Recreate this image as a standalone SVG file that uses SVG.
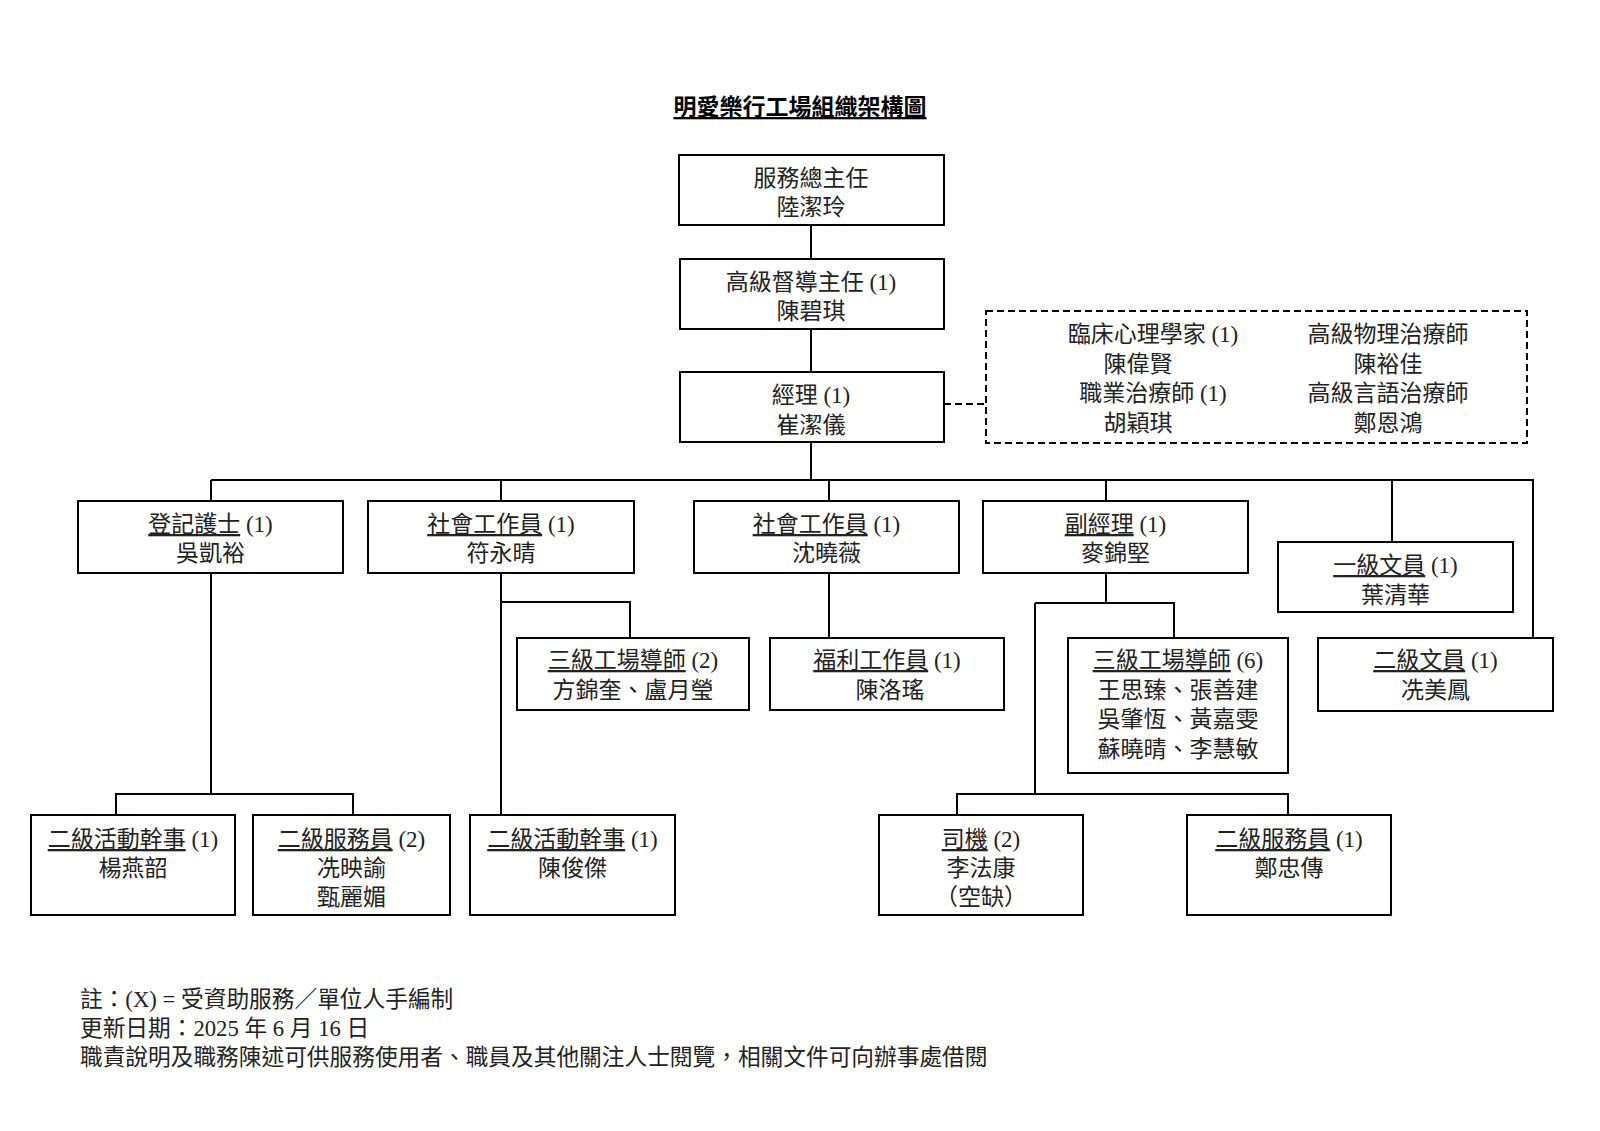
<svg xmlns="http://www.w3.org/2000/svg" width="1600" height="1131" viewBox="0 0 1600 1131">
<style>
.bg{fill:#fff}
.box{fill:#fff;stroke:#000;stroke-width:2}
.dash{fill:none;stroke:#000;stroke-width:2;stroke-dasharray:7 4}
.ln{fill:none;stroke:#000;stroke-width:2}
text{font-family:"Liberation Serif","Noto Sans CJK TC",serif;font-size:23px;fill:#222;text-anchor:middle}
.u{text-decoration:underline}
.title{font-size:23px;font-weight:bold;fill:#000;text-decoration:underline}
.foot{text-anchor:start;font-size:22.7px}
</style>
<rect class="bg" x="0" y="0" width="1600" height="1131"/>
<text class="title" x="800" y="115">明愛樂行工場組織架構圖</text>

<g id="connectors">
<path class="ln" d="M811 225V259M811 329V372M811 442V480"/>
<path class="dash" d="M944 404H986"/>
<path class="ln" d="M211 480H1533V638M211 480V501M501 480V501M829 480V501M1106 480V501M1392 480V542"/>
<path class="ln" d="M211 573V794M116 815V794H353V815"/>
<path class="ln" d="M501 573V815M501 602H630V638"/>
<path class="ln" d="M829 573V638"/>
<path class="ln" d="M1106 573V603M1035 603H1174V638M1035 603V794M957 815V794H1288V815"/>
</g>

<g id="n-director"><rect class="box" x="679" y="155" width="265" height="70"/>
<text x="811" y="186">服務總主任</text><text x="811" y="215">陸潔玲</text></g>

<g id="n-senior-supervisor"><rect class="box" x="680" y="259" width="264" height="70"/>
<text x="811" y="290">高級督導主任 (1)</text><text x="811" y="319">陳碧琪</text></g>

<g id="n-manager"><rect class="box" x="680" y="372" width="264" height="70"/>
<text x="811" y="403">經理 (1)</text><text x="811" y="433">崔潔儀</text></g>

<g id="n-professionals"><rect class="dash" x="986" y="311" width="541" height="132"/>
<text x="1153" y="342">臨床心理學家 (1)</text><text x="1138" y="371.5">陳偉賢</text>
<text x="1153" y="401">職業治療師 (1)</text><text x="1138" y="430.5">胡穎琪</text>
<text x="1388" y="342">高級物理治療師</text><text x="1388" y="371.5">陳裕佳</text>
<text x="1388" y="401">高級言語治療師</text><text x="1388" y="430.5">鄭恩鴻</text></g>

<g id="n-nurse"><rect class="box" x="78" y="501" width="265" height="72"/>
<text x="210.5" y="532"><tspan class="u">登記護士</tspan> (1)</text><text x="210.5" y="561">吳凱裕</text></g>

<g id="n-sw1"><rect class="box" x="368" y="501" width="266" height="72"/>
<text x="501" y="532"><tspan class="u">社會工作員</tspan> (1)</text><text x="501" y="561">符永晴</text></g>

<g id="n-sw2"><rect class="box" x="694" y="501" width="265" height="72"/>
<text x="826.5" y="532"><tspan class="u">社會工作員</tspan> (1)</text><text x="826.5" y="561">沈曉薇</text></g>

<g id="n-deputy"><rect class="box" x="983" y="501" width="265" height="72"/>
<text x="1115.5" y="532"><tspan class="u">副經理</tspan> (1)</text><text x="1115.5" y="561">麥錦堅</text></g>

<g id="n-clerk1"><rect class="box" x="1278" y="542" width="235" height="70"/>
<text x="1395.5" y="573"><tspan class="u">一級文員</tspan> (1)</text><text x="1395.5" y="603">葉清華</text></g>

<g id="n-instructor2"><rect class="box" x="517" y="638" width="232" height="72"/>
<text x="633" y="668"><tspan class="u">三級工場導師</tspan> (2)</text><text x="633" y="698">方錦奎、盧月瑩</text></g>

<g id="n-welfare"><rect class="box" x="770" y="638" width="234" height="72"/>
<text x="887" y="668"><tspan class="u">福利工作員</tspan> (1)</text><text x="890" y="698">陳洛瑤</text></g>

<g id="n-instructor6"><rect class="box" x="1068" y="638" width="220" height="135"/>
<text x="1178" y="668"><tspan class="u">三級工場導師</tspan> (6)</text>
<text x="1178" y="698">王思臻、張善建</text><text x="1178" y="727">吳肇恆、黃嘉雯</text><text x="1178" y="757">蘇曉晴、李慧敏</text></g>

<g id="n-clerk2"><rect class="box" x="1318" y="638" width="235" height="73"/>
<text x="1435.5" y="668"><tspan class="u">二級文員</tspan> (1)</text><text x="1435.5" y="698">冼美鳳</text></g>

<g id="n-activity1"><rect class="box" x="31" y="815" width="204" height="100"/>
<text x="133" y="847"><tspan class="u">二級活動幹事</tspan> (1)</text><text x="133" y="876">楊燕韶</text></g>

<g id="n-worker2"><rect class="box" x="253" y="815" width="197" height="100"/>
<text x="351.5" y="847"><tspan class="u">二級服務員</tspan> (2)</text><text x="351.5" y="876">冼映諭</text><text x="351.5" y="905">甄麗媚</text></g>

<g id="n-activity2"><rect class="box" x="470" y="815" width="205" height="100"/>
<text x="572.5" y="847"><tspan class="u">二級活動幹事</tspan> (1)</text><text x="572.5" y="876">陳俊傑</text></g>

<g id="n-driver"><rect class="box" x="879" y="815" width="204" height="100"/>
<text x="981" y="847"><tspan class="u">司機</tspan> (2)</text><text x="981" y="876">李法康</text><text x="981" y="905">（空缺）</text></g>

<g id="n-worker1"><rect class="box" x="1187" y="815" width="204" height="100"/>
<text x="1289" y="847"><tspan class="u">二級服務員</tspan> (1)</text><text x="1289" y="876">鄭忠傳</text></g>

<g id="footer">
<text class="foot" x="80" y="1007">註：(X) = 受資助服務／單位人手編制</text>
<text class="foot" x="80" y="1036">更新日期：2025 年 6 月 16 日</text>
<text class="foot" x="80" y="1065">職責說明及職務陳述可供服務使用者、職員及其他關注人士閱覽，相關文件可向辦事處借閱</text>
</g>
</svg>
